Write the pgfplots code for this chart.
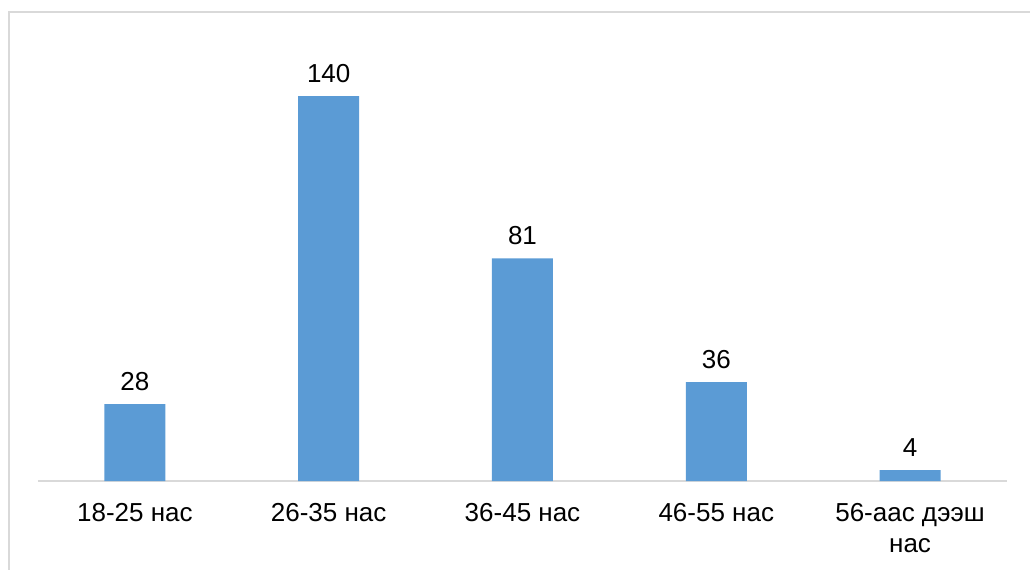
\documentclass[border=0pt]{standalone}
\usepackage{fontspec}
\setmainfont{Liberation Sans}
\usepackage{pgfplots}
\pgfplotsset{compat=1.18}
\definecolor{barblue}{HTML}{5B9BD5}
\definecolor{linegray}{HTML}{D9D9D9}
\begin{document}
\begin{tikzpicture}
\useasboundingbox (0,0) rectangle (515pt,284.5pt);
\draw[linegray, line width=0.9pt] (4.5pt,-20pt) -- (4.5pt,278.5pt) -- (540pt,278.5pt);
\begin{axis}[
  at={(19pt,44pt)}, anchor=south west,
  scale only axis, width=484.5pt, height=220pt,
  xmin=-0.5, xmax=4.5, ymin=0, ymax=160,
  axis x line=bottom, axis y line=none,
  x axis line style={-, linegray, line width=0.9pt},
  xtick={0,1,2,3,4},
  xticklabels={18-25 нас, 26-35 нас, 36-45 нас, 46-55 нас, {56-аас дээш\\нас}},
  major tick length=0pt,
  xticklabel style={align=center, font=\fontsize{13}{15.6}\selectfont, text=black, inner sep=0pt, yshift=-11pt, anchor=north},
  /pgf/number format/assume math mode=true,
  ybar, bar width=30.5pt,
  nodes near coords,
  every node near coord/.append style={font=\fontsize{13}{15}\selectfont, text=black, inner sep=0pt, anchor=south, yshift=6.5pt},
  clip=false,
]
\addplot[fill=barblue, draw=none] coordinates {(0,28) (1,140) (2,81) (3,36) (4,4)};
\end{axis}
\end{tikzpicture}
\end{document}
